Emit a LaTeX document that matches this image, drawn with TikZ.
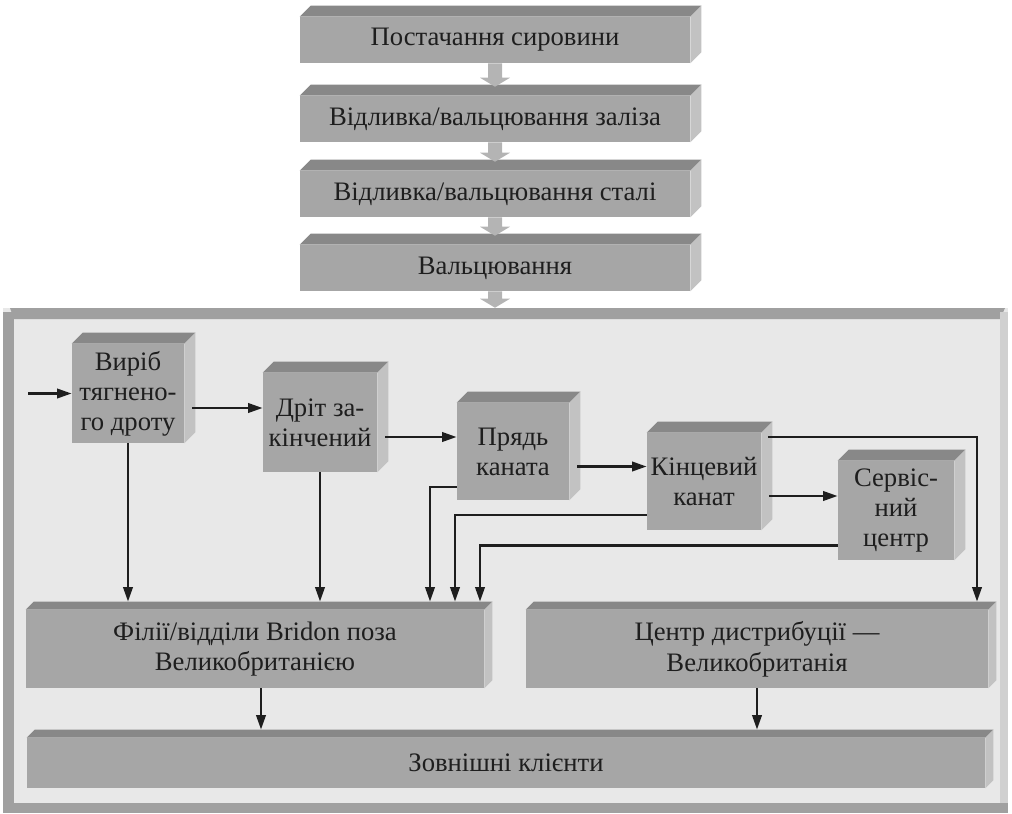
\documentclass[tikz,border=0pt]{standalone}
\usepackage{fontspec}
\setmainfont{Liberation Serif}
\usetikzlibrary{calc,arrows.meta}
\def\pxu{0.75pt}
\definecolor{slabfront}{HTML}{A6A6A6}
\definecolor{slabtop}{HTML}{888888}
\definecolor{slabside}{HTML}{C2C2C2}
\definecolor{contfill}{HTML}{E8E8E8}
\definecolor{contedge}{HTML}{A0A0A0}
\definecolor{contside}{HTML}{D0D0D0}
\definecolor{blockc}{HTML}{B4B4B4}
\definecolor{textc}{HTML}{1E1E1E}

% top and right faces of a slab drawn beside a front-face node
\newcommand\slabfaces[2]{%
  \fill[slabtop] (#1.north west) -- ++(#2,-#2) -- ($(#1.north east)+(#2,-#2)$) -- (#1.north east) -- cycle;
  \fill[slabside] (#1.north east) -- ++(#2,-#2) -- ($(#1.south east)+(#2,-#2)$) -- (#1.south east) -- cycle;}
% broad downward block arrow between two stacked nodes
\newcommand\blockdown[3]{%
  \fill[blockc] ($(#1.south)+(-7,0)$) -- ($(#1.south)+(7,0)$)
    -- ($(#1.south |- #2.north)+(7,-#3-9)$) -- ($(#1.south |- #2.north)+(15,-#3-9)$)
    -- ($(#1.south |- #2.north)+(0,-#3)$)
    -- ($(#1.south |- #2.north)+(-15,-#3-9)$) -- ($(#1.south |- #2.north)+(-7,-#3-9)$) -- cycle;}

\begin{document}
\begin{tikzpicture}[x=0.75pt,y=-0.75pt,
  slab/.style={rectangle, fill=slabfront, inner sep=0pt, align=center, text=textc},
  size/.style 2 args={minimum width=#1*\pxu, minimum height=#2*\pxu},
  stage/.style={slab, size={390}{46}, font=\fontsize{20}{24}\selectfont},
  unit/.style={slab, font=\fontsize{20}{22.5}\selectfont},
  wide/.style={slab, font=\fontsize{20}{23}\selectfont},
  conn/.style={line width=2pt, textc, -{Triangle[length=11pt,width=7pt]}}]
\useasboundingbox (0,0) rectangle (1012,813);

% container tray
\node[fill=contfill, inner sep=0pt, size={1005}{505}] (cont) at (505.5,560.5) {};
\fill[contedge] (3,312) rectangle (14,813);
\fill[contedge] (10,308) -- (1005,308) -- (1000,319) -- (14,319) -- cycle;
\fill[contedge] (3,803) rectangle (1008,813);
\fill[contside] (1000,312) rectangle (1008,803);

% production stages
\node[stage] (b1) at (495,40)  {Постачання сировини};
\node[stage] (b2) at (495,119) {Відливка/вальцювання заліза};
\node[stage] (b3) at (495,194) {Відливка/вальцювання сталі};
\node[stage] (b4) at (495,268) {Вальцювання};
\foreach \n in {b1,b2,b3,b4} {\slabfaces{\n}{11}}
\blockdown{b1}{b2}{9}
\blockdown{b2}{b3}{9}
\blockdown{b3}{b4}{9}
\blockdown{b4}{cont}{0}

% wire and rope units
\node[unit,size={112}{99}] (vyrib) at (128,393.5) {Виріб\\тягнено-\\го дроту};
\node[unit,size={114}{99}] (drit)  at (320,422.5) {Дріт за-\\кінчений};
\node[unit,size={112}{97}] (pryad) at (513,451.5) {Прядь\\каната};
\node[unit,size={114}{97}] (kinc)  at (704,481.5) {Кінцевий\\канат};
\node[unit,size={116}{99}] (serv)  at (896,510.5) {Сервіс-\\ний\\центр};
\foreach \n in {vyrib,drit,pryad,kinc,serv} {\slabfaces{\n}{11}}

% distribution
\node[wide,size={458}{78}] (fil) at (255,649) {Філії/відділи Bridon поза\\Великобританією};
\node[wide,size={462}{78}] (cen) at (757,649) {Центр дистрибуції —\\Великобританія};
\node[wide,size={958}{50}] (zov) at (506,763) {Зовнішні клієнти};
\foreach \n in {fil,cen,zov} {\slabfaces{\n}{8}}

\coordinate (filT) at ([yshift=6pt]fil.north);
\coordinate (cenT) at ([yshift=6pt]cen.north);
\coordinate (zovT) at ([yshift=6pt]zov.north);
\coordinate (src) at (28,393.5);
\coordinate (c1) at (430,0);
\coordinate (c2) at (455,0);
\coordinate (c3) at (480,0);
\coordinate (c4) at (977,0);

% flow along the chain
\draw[conn] (src) -- (vyrib.west);
\coordinate (m1) at ($(vyrib.east)!.5!(drit.west)$);
\coordinate (m2) at ($(drit.east)!.5!(pryad.west)$);
\coordinate (m3) at ($(pryad.east)!.5!(kinc.west)$);
\coordinate (m4) at ($(kinc.east)!.5!(serv.west)$);
\draw[conn, shorten <=6pt] (m1 -| vyrib.east) -- (m1 -| drit.west);
\draw[conn, shorten <=6pt] (m2 -| drit.east) -- (m2 -| pryad.west);
\draw[conn, shorten <=6pt] (m3 -| pryad.east) -- (m3 -| kinc.west);
\draw[conn, shorten <=6pt] (m4 -| kinc.east) -- (m4 -| serv.west);

% deliveries to the branches
\draw[conn] (vyrib.south) -- (vyrib.south |- filT);
\draw[conn] (drit.south) -- (drit.south |- filT);
\draw[conn] ([yshift=-26.6pt]pryad.west) -| (c1 |- filT);
\draw[conn] ([yshift=-25pt]kinc.west) -| (c2 |- filT);
\draw[conn] ([yshift=-26pt]serv.west) -| (c3 |- filT);
\draw[conn, shorten <=5pt] ([yshift=33.4pt]kinc.east) -| (c4 |- cenT);

% to the customers
\draw[conn] ([xshift=4.5pt]fil.south) -- ([xshift=4.5pt]fil.south |- zovT);
\draw[conn] (cen.south) -- (cen.south |- zovT);
\end{tikzpicture}
\end{document}
